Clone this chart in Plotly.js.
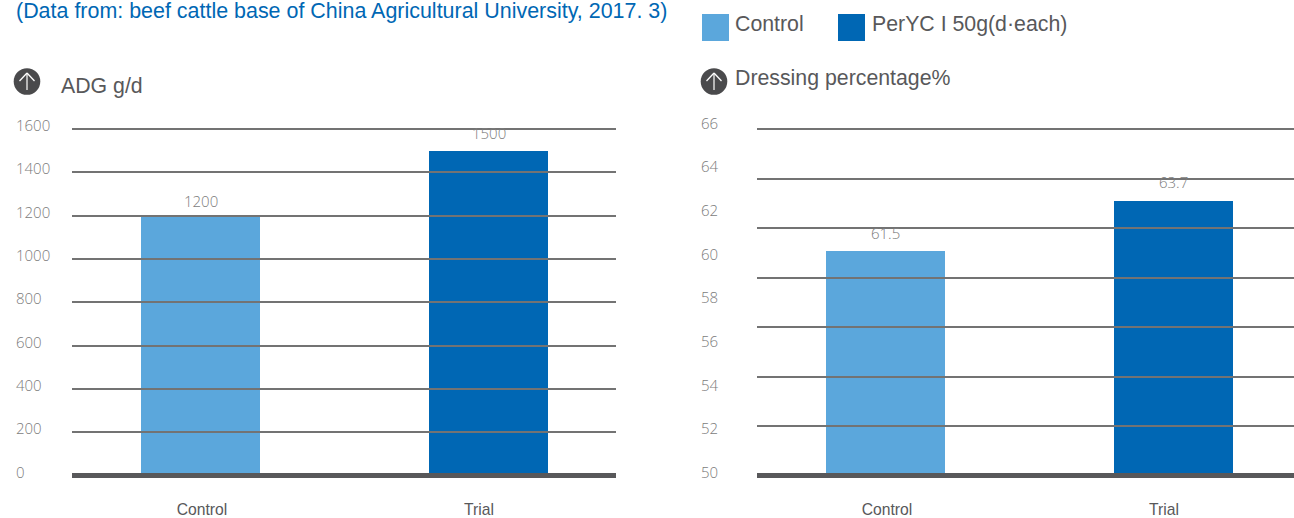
<!DOCTYPE html>
<html>
<head>
<meta charset="utf-8">
<script src="https://cdn.plot.ly/plotly-3.0.1.min.js"></script>
<style>html,body{margin:0;padding:0;background:#fff}#chart{width:1294px;height:518px}</style>
</head>
<body>
<div id="chart"></div>
<script>
// Feeding trial results: average daily gain and dressing percentage
const categories = ['Control', 'Trial'];
const barPositions = [0, 1];
const adgValues = [1200, 1500];
const dressingValues = [61.5, 63.7];
const barColors = ['#5BA7DC', '#0067B4'];
const adgTicks = [0, 200, 400, 600, 800, 1000, 1200, 1400, 1600];
const dressingTicks = [50, 52, 54, 56, 58, 60, 62, 64, 66];
const sourceNote = '(Data from: beef cattle base of China Agricultural University, 2017. 3)';
const legendNames = ['Control', 'PerYC I 50g(d\u00b7each)'];
const panelTitles = ['ADG g/d', 'Dressing percentage%'];

const W = 1294, H = 518;
const px = v => v / W;
const py = v => 1 - v / H;
const SANS = '"Liberation Sans", Arial, sans-serif';
const THIN = '"Open Sans", "Liberation Sans", sans-serif';
const GRID = '#737373';
const TEXT = '#58585a';
const TICK = '#7c7c7c';

function bars(values, xa, ya) {
  return {
    type: 'bar', x: barPositions, y: values, width: 0.413,
    xaxis: xa, yaxis: ya, showlegend: false, hoverinfo: 'x+y',
    marker: {color: barColors, line: {width: 0}}
  };
}

// Carries a number-only axis so it gets drawn; nothing visible is plotted
function tickCarrier(ticks, xa, ya) {
  return {type: 'scatter', mode: 'none', x: ticks.map(() => 0), y: ticks,
          xaxis: xa, yaxis: ya, showlegend: false, hoverinfo: 'skip'};
}

function valueAxis(domain, range, dtick, tick0, ticklen) {
  // long inside ticks act as gridlines that sit over the bars
  return {
    domain, range, tick0, dtick, tickmode: 'linear', ticklen,
    showgrid: false, zeroline: false, showline: false, showticklabels: false,
    ticks: 'inside', tickwidth: 2, tickcolor: GRID, layer: 'above traces'
  };
}

function labelAxis(domain, range, ticks, leftPx) {
  // separate right-sided axis so the numbers are left aligned at leftPx
  return {
    domain, range, anchor: 'free', position: px(leftPx), side: 'right',
    tickmode: 'array', tickvals: ticks, ticktext: ticks.map(String),
    showgrid: false, zeroline: false, showline: false, ticks: '',
    tickfont: {family: THIN, size: 15, color: TICK, weight: 300}
  };
}

function categoryAxis(domain, range, anchor) {
  return {
    domain, range, anchor, tickmode: 'array', tickvals: [0.005, 0.967], ticktext: categories,
    showgrid: false, zeroline: false, showline: false, ticks: '',
    ticklabelstandoff: 23, tickfont: {family: SANS, size: 15.7, color: TEXT}
  };
}

function textAt(text, xPx, yPx, size, color) {
  return {
    xref: 'paper', yref: 'paper', x: px(xPx), y: py(yPx), text,
    showarrow: false, xanchor: 'left', yanchor: 'middle', borderpad: 0, borderwidth: 0,
    font: {family: SANS, size, color}
  };
}

function valueLabels(values, xa, ya, shift) {
  return values.map((v, i) => ({
    xref: xa, yref: ya, x: barPositions[i], y: v, text: String(v),
    showarrow: false, yanchor: 'bottom', yshift: shift[i],
    font: {family: THIN, size: 15, color: TICK, weight: 300}
  }));
}

function square(x0, y0, x1, y1, color) {
  return {type: 'rect', xref: 'paper', yref: 'paper', x0: px(x0), x1: px(x1), y0: py(y0), y1: py(y1),
          fillcolor: color, line: {width: 0}};
}

function baseline(x0, x1) {
  return {type: 'line', xref: 'paper', yref: 'paper', layer: 'above', x0: px(x0), x1: px(x1),
          y0: py(475.5), y1: py(475.5), line: {color: '#58585a', width: 5}};
}

function arrowIcon(cx, cy) {
  const disc = {type: 'circle', xref: 'paper', yref: 'paper', x0: px(cx - 13.3), x1: px(cx + 13.3),
                y0: py(cy - 13.3), y1: py(cy + 13.3), fillcolor: '#4a4a4c', line: {width: 0}};
  const seg = (x0, y0, x1, y1) => ({type: 'line', xref: 'paper', yref: 'paper',
    x0: px(x0), x1: px(x1), y0: py(y0), y1: py(y1), line: {color: '#ffffff', width: 1.2}});
  return [disc, seg(cx, cy - 8.5, cx, cy + 8.5), seg(cx, cy - 8.5, cx - 7.5, cy - 0.5), seg(cx, cy - 8.5, cx + 7.5, cy - 0.5)];
}

// Plot areas run a little past the top gridline so that tick is kept
const plotTop = 124, plotBottom = 475.5, gridTop = 129;
const plotDomain = [py(plotBottom), py(plotTop)];
const labelDomain = [py(485), py(112)];

const adgScale = (plotBottom - gridTop) / 1600;
const dressingScale = (251 - 201) / (dressingValues[1] - dressingValues[0]);
const dressingBottom = dressingValues[0] - (plotBottom - 251) / dressingScale;
const dressingStep = (plotBottom - gridTop) / 7 / dressingScale;

const adgLabelScale = (472.5 - 125.5) / 1600;
const dressingLabelScale = (472.5 - 123.5) / 16;

const data = [
  bars(adgValues, 'x', 'y'),
  bars(dressingValues, 'x2', 'y2'),
  tickCarrier(adgTicks, 'x', 'y3'),
  tickCarrier(dressingTicks, 'x2', 'y4')
];

const layout = {
  width: W, height: H, autosize: false, bargap: 0,
  margin: {l: 0, r: 0, t: 0, b: 0, pad: 0},
  paper_bgcolor: '#ffffff', plot_bgcolor: 'rgba(0,0,0,0)', showlegend: false,
  xaxis: categoryAxis([px(72), px(616)], [-0.4462, 1.4427], 'y'),
  xaxis2: categoryAxis([px(757), 1], [-0.4462, 1.4184], 'y2'),
  yaxis: Object.assign(valueAxis(plotDomain, [0, 1600 + (gridTop - plotTop) / adgScale], 200, 0, 544), {anchor: 'x'}),
  yaxis2: Object.assign(valueAxis(plotDomain, [dressingBottom, dressingBottom + (plotBottom - plotTop) / dressingScale], dressingStep, dressingBottom, 537), {anchor: 'x2'}),
  yaxis3: labelAxis(labelDomain, [-(485 - 472.5) / adgLabelScale, 1600 + (125.5 - 112) / adgLabelScale], adgTicks, 15),
  yaxis4: labelAxis(labelDomain, [50 - (485 - 472.5) / dressingLabelScale, 66 + (123.5 - 112) / dressingLabelScale], dressingTicks, 700),
  shapes: [
    baseline(72, 616), baseline(757, 1294),
    square(702, 14, 729, 41, barColors[0]),
    square(838, 14, 865, 41, barColors[1])
  ].concat(arrowIcon(27, 81.5), arrowIcon(714, 81.5)),
  annotations: [
    textAt(sourceNote, 16, 10.5, 21.45, '#0067B4'),
    textAt(legendNames[0], 735, 24, 21.3, TEXT),
    textAt(legendNames[1], 872, 24, 21.3, TEXT),
    textAt(panelTitles[0], 61, 86, 21.3, TEXT),
    textAt(panelTitles[1], 735, 78, 21.3, TEXT)
  ].concat(valueLabels(adgValues, 'x', 'y', [3, 6]), valueLabels(dressingValues, 'x2', 'y2', [6, 7]))
};

Plotly.newPlot('chart', data, layout, {displayModeBar: false, staticPlot: true});
</script>
</body>
</html>
